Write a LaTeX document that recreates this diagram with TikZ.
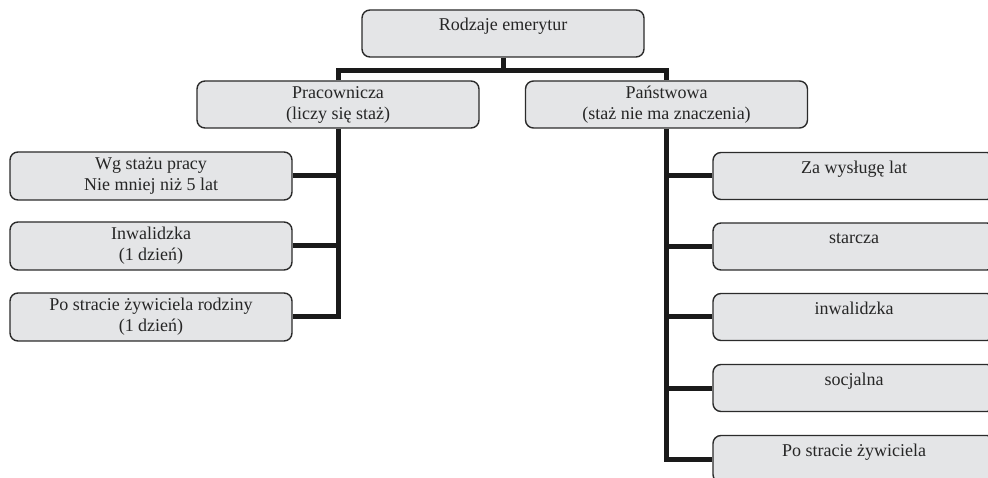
\documentclass[tikz,border=0pt]{standalone}
\usepackage{fontspec}
\setmainfont{Liberation Serif}
\definecolor{boxfill}{HTML}{E4E5E7}
\definecolor{boxline}{HTML}{2B2B2B}
\definecolor{conn}{HTML}{1A1A1A}
\begin{document}
\begin{tikzpicture}[x=1pt,y=-1pt,
  box/.style={draw=boxline, line width=1.4pt, fill=boxfill, rounded corners=8pt,
    minimum width=282pt, inner sep=0pt, align=center,
    font=\fontsize{18}{21}\selectfont, text=black!85},
  twoline/.style={box, minimum height=47pt},
  topbox/.style={box, text height=17pt, text depth=22pt, inner ysep=4pt},
  conn/.style={draw=conn, line width=5pt}]
\path[use as bounding box] (0,0) rectangle (988,478);
\clip (0,0) rectangle (988,478);
% top level
\node[topbox] (root) at (503,33.5) {Rodzaje emerytur};
\node[twoline] (prac) at (338,104.5) {Pracownicza\\(liczy się staż)};
\node[twoline] (pan) at (666.5,104.5) {Państwowa\\(staż nie ma znaczenia)};
% left branch
\node[twoline, minimum height=48pt] (l1) at (151,176) {Wg stażu pracy\\Nie mniej niż 5 lat};
\node[twoline, minimum height=48pt] (l2) at (151,246) {Inwalidzka\\(1 dzień)};
\node[twoline, minimum height=48pt] (l3) at (151,317) {Po stracie żywiciela rodziny\\(1 dzień)};
% right branch
\node[topbox] (r1) at (854,176) {Za wysługę lat};
\node[topbox] (r2) at (854,246.5) {starcza};
\node[topbox] (r3) at (854,317) {inwalidzka};
\node[topbox] (r4) at (854,388) {socjalna};
\node[topbox] (r5) at (854,459) {Po stracie żywiciela};
% connectors
\draw[conn] (root.south) -- ++(0,13) coordinate (bar);
\draw[conn] (prac.north) |- (bar) -| (pan.north);
\draw[conn] (prac.south) |- (l3.east);
\draw[conn] (l1.east) -- (l1.east -| prac.south);
\draw[conn] (l2.east) -- (l2.east -| prac.south);
\draw[conn] (pan.south) |- (r5.west);
\draw[conn] (r1.west) -- (r1.west -| pan.south);
\draw[conn] (r2.west) -- (r2.west -| pan.south);
\draw[conn] (r3.west) -- (r3.west -| pan.south);
\draw[conn] (r4.west) -- (r4.west -| pan.south);
\end{tikzpicture}
\end{document}
